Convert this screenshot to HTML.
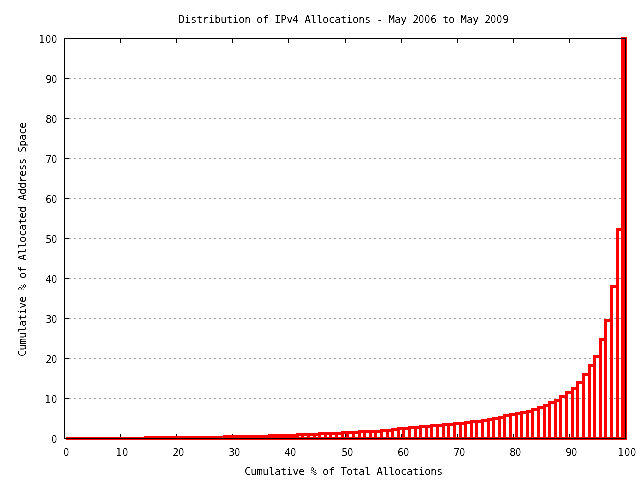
<!DOCTYPE html>
<html><head><meta charset="utf-8"><style>
html,body{margin:0;padding:0;background:#fff;}
body{width:640px;height:480px;position:relative;overflow:hidden;}
.plot{position:absolute;left:0;top:0;z-index:2;}
.txt{position:absolute;left:0;top:0;width:640px;height:480px;background:#fff;filter:contrast(2.5);}
.t{position:absolute;white-space:pre;font-family:"DejaVu Sans Mono", "Liberation Mono", monospace;font-size:10.5px;line-height:10px;letter-spacing:-0.32px;color:#000;transform-origin:0 0;transform:translate(-0.5px,-1px) scaleY(1.0);}
.z{display:inline-block;width:6px;font-family:"Liberation Sans",sans-serif;font-size:10.8px;letter-spacing:0px;transform:scaleX(0.85);transform-origin:20% 0;}
.o{position:relative;left:-1px;}
.yl{position:absolute;left:18px;top:356px;white-space:pre;font-family:"DejaVu Sans Mono", "Liberation Mono", monospace;font-size:10.5px;line-height:10px;letter-spacing:-0.32px;color:#000;transform-origin:0 0;transform:rotate(-90deg) translate(-0.5px,-1px) scaleY(1.0);}
</style></head><body>
<svg class="plot" width="640" height="480" viewBox="0 0 640 480" shape-rendering="crispEdges"><g stroke="#a0a0a0" stroke-width="1" stroke-dasharray="2 3"><line x1="64" y1="398.5" x2="626" y2="398.5"/><line x1="64" y1="358.5" x2="626" y2="358.5"/><line x1="64" y1="318.5" x2="626" y2="318.5"/><line x1="64" y1="278.5" x2="626" y2="278.5"/><line x1="64" y1="238.5" x2="626" y2="238.5"/><line x1="64" y1="198.5" x2="626" y2="198.5"/><line x1="64" y1="158.5" x2="626" y2="158.5"/><line x1="64" y1="118.5" x2="626" y2="118.5"/><line x1="64" y1="78.5" x2="626" y2="78.5"/></g><g fill="#000"><rect x="64" y="434" width="1" height="5"/><rect x="64" y="38" width="1" height="5"/><rect x="120" y="434" width="1" height="5"/><rect x="120" y="38" width="1" height="5"/><rect x="176" y="434" width="1" height="5"/><rect x="176" y="38" width="1" height="5"/><rect x="232" y="434" width="1" height="5"/><rect x="232" y="38" width="1" height="5"/><rect x="288" y="434" width="1" height="5"/><rect x="288" y="38" width="1" height="5"/><rect x="345" y="434" width="1" height="5"/><rect x="345" y="38" width="1" height="5"/><rect x="401" y="434" width="1" height="5"/><rect x="401" y="38" width="1" height="5"/><rect x="457" y="434" width="1" height="5"/><rect x="457" y="38" width="1" height="5"/><rect x="513" y="434" width="1" height="5"/><rect x="513" y="38" width="1" height="5"/><rect x="569" y="434" width="1" height="5"/><rect x="569" y="38" width="1" height="5"/><rect x="625" y="434" width="1" height="5"/><rect x="625" y="38" width="1" height="5"/><rect x="64" y="438" width="5" height="1"/><rect x="621" y="438" width="5" height="1"/><rect x="64" y="398" width="5" height="1"/><rect x="621" y="398" width="5" height="1"/><rect x="64" y="358" width="5" height="1"/><rect x="621" y="358" width="5" height="1"/><rect x="64" y="318" width="5" height="1"/><rect x="621" y="318" width="5" height="1"/><rect x="64" y="278" width="5" height="1"/><rect x="621" y="278" width="5" height="1"/><rect x="64" y="238" width="5" height="1"/><rect x="621" y="238" width="5" height="1"/><rect x="64" y="198" width="5" height="1"/><rect x="621" y="198" width="5" height="1"/><rect x="64" y="158" width="5" height="1"/><rect x="621" y="158" width="5" height="1"/><rect x="64" y="118" width="5" height="1"/><rect x="621" y="118" width="5" height="1"/><rect x="64" y="78" width="5" height="1"/><rect x="621" y="78" width="5" height="1"/><rect x="64" y="38" width="5" height="1"/><rect x="621" y="38" width="5" height="1"/></g><g fill="#f00"><rect x="66" y="437" width="3" height="3"/><rect x="67" y="437" width="6" height="3"/><rect x="71" y="437" width="3" height="3"/><rect x="67" y="437" width="6" height="3"/><rect x="71" y="437" width="3" height="3"/><rect x="72" y="437" width="7" height="3"/><rect x="77" y="437" width="3" height="3"/><rect x="72" y="437" width="7" height="3"/><rect x="77" y="437" width="3" height="3"/><rect x="78" y="437" width="7" height="3"/><rect x="83" y="437" width="3" height="3"/><rect x="78" y="437" width="7" height="3"/><rect x="83" y="437" width="3" height="3"/><rect x="84" y="437" width="6" height="3"/><rect x="88" y="437" width="3" height="3"/><rect x="84" y="437" width="6" height="3"/><rect x="88" y="437" width="3" height="3"/><rect x="89" y="437" width="7" height="3"/><rect x="94" y="437" width="3" height="3"/><rect x="89" y="437" width="7" height="3"/><rect x="94" y="437" width="3" height="3"/><rect x="95" y="437" width="6" height="3"/><rect x="99" y="437" width="3" height="3"/><rect x="95" y="437" width="6" height="3"/><rect x="99" y="437" width="3" height="3"/><rect x="100" y="437" width="7" height="3"/><rect x="105" y="437" width="3" height="3"/><rect x="100" y="437" width="7" height="3"/><rect x="105" y="437" width="3" height="3"/><rect x="106" y="437" width="7" height="3"/><rect x="111" y="437" width="3" height="3"/><rect x="106" y="437" width="7" height="3"/><rect x="111" y="437" width="3" height="3"/><rect x="112" y="437" width="6" height="3"/><rect x="116" y="437" width="3" height="3"/><rect x="112" y="437" width="6" height="3"/><rect x="116" y="437" width="3" height="3"/><rect x="117" y="437" width="7" height="3"/><rect x="122" y="437" width="3" height="3"/><rect x="117" y="437" width="7" height="3"/><rect x="122" y="437" width="3" height="3"/><rect x="123" y="437" width="7" height="3"/><rect x="128" y="437" width="3" height="3"/><rect x="123" y="437" width="7" height="3"/><rect x="128" y="437" width="3" height="3"/><rect x="129" y="437" width="6" height="3"/><rect x="133" y="437" width="3" height="3"/><rect x="129" y="437" width="6" height="3"/><rect x="133" y="437" width="3" height="3"/><rect x="134" y="437" width="7" height="3"/><rect x="139" y="437" width="3" height="3"/><rect x="134" y="437" width="7" height="3"/><rect x="139" y="437" width="3" height="3"/><rect x="140" y="437" width="6" height="3"/><rect x="144" y="437" width="3" height="3"/><rect x="140" y="437" width="6" height="3"/><rect x="144" y="436" width="3" height="4"/><rect x="145" y="436" width="7" height="3"/><rect x="150" y="436" width="3" height="4"/><rect x="145" y="437" width="7" height="3"/><rect x="150" y="436" width="3" height="4"/><rect x="151" y="436" width="7" height="3"/><rect x="156" y="436" width="3" height="4"/><rect x="151" y="437" width="7" height="3"/><rect x="156" y="436" width="3" height="4"/><rect x="157" y="436" width="6" height="3"/><rect x="161" y="436" width="3" height="4"/><rect x="157" y="437" width="6" height="3"/><rect x="161" y="436" width="3" height="4"/><rect x="162" y="436" width="7" height="3"/><rect x="167" y="436" width="3" height="4"/><rect x="162" y="437" width="7" height="3"/><rect x="167" y="436" width="3" height="4"/><rect x="168" y="436" width="6" height="3"/><rect x="172" y="436" width="3" height="4"/><rect x="168" y="437" width="6" height="3"/><rect x="172" y="436" width="3" height="4"/><rect x="173" y="436" width="7" height="3"/><rect x="178" y="436" width="3" height="4"/><rect x="173" y="437" width="7" height="3"/><rect x="178" y="436" width="3" height="4"/><rect x="179" y="436" width="7" height="3"/><rect x="184" y="436" width="3" height="4"/><rect x="179" y="437" width="7" height="3"/><rect x="184" y="436" width="3" height="4"/><rect x="185" y="436" width="6" height="3"/><rect x="189" y="436" width="3" height="4"/><rect x="185" y="437" width="6" height="3"/><rect x="189" y="436" width="3" height="4"/><rect x="190" y="436" width="7" height="3"/><rect x="195" y="436" width="3" height="4"/><rect x="190" y="437" width="7" height="3"/><rect x="195" y="436" width="3" height="4"/><rect x="196" y="436" width="6" height="3"/><rect x="200" y="436" width="3" height="4"/><rect x="196" y="437" width="6" height="3"/><rect x="200" y="436" width="3" height="4"/><rect x="201" y="436" width="7" height="3"/><rect x="206" y="436" width="3" height="4"/><rect x="201" y="437" width="7" height="3"/><rect x="206" y="436" width="3" height="4"/><rect x="207" y="436" width="7" height="3"/><rect x="212" y="436" width="3" height="4"/><rect x="207" y="437" width="7" height="3"/><rect x="212" y="436" width="3" height="4"/><rect x="213" y="436" width="6" height="3"/><rect x="217" y="436" width="3" height="4"/><rect x="213" y="437" width="6" height="3"/><rect x="217" y="436" width="3" height="4"/><rect x="218" y="436" width="7" height="3"/><rect x="223" y="436" width="3" height="4"/><rect x="218" y="437" width="7" height="3"/><rect x="223" y="435" width="3" height="5"/><rect x="224" y="435" width="6" height="3"/><rect x="228" y="435" width="3" height="5"/><rect x="224" y="437" width="6" height="3"/><rect x="228" y="435" width="3" height="5"/><rect x="229" y="435" width="7" height="3"/><rect x="234" y="435" width="3" height="5"/><rect x="229" y="437" width="7" height="3"/><rect x="234" y="435" width="3" height="5"/><rect x="235" y="435" width="7" height="3"/><rect x="240" y="435" width="3" height="5"/><rect x="235" y="437" width="7" height="3"/><rect x="240" y="435" width="3" height="5"/><rect x="241" y="435" width="6" height="3"/><rect x="245" y="435" width="3" height="5"/><rect x="241" y="437" width="6" height="3"/><rect x="245" y="435" width="3" height="5"/><rect x="246" y="435" width="7" height="3"/><rect x="251" y="435" width="3" height="5"/><rect x="246" y="437" width="7" height="3"/><rect x="251" y="435" width="3" height="5"/><rect x="252" y="435" width="7" height="3"/><rect x="257" y="435" width="3" height="5"/><rect x="252" y="437" width="7" height="3"/><rect x="257" y="435" width="3" height="5"/><rect x="258" y="435" width="6" height="3"/><rect x="262" y="435" width="3" height="5"/><rect x="258" y="437" width="6" height="3"/><rect x="262" y="435" width="3" height="5"/><rect x="263" y="435" width="7" height="3"/><rect x="268" y="435" width="3" height="5"/><rect x="263" y="437" width="7" height="3"/><rect x="268" y="434" width="3" height="6"/><rect x="269" y="434" width="6" height="3"/><rect x="273" y="434" width="3" height="6"/><rect x="269" y="437" width="6" height="3"/><rect x="273" y="434" width="3" height="6"/><rect x="274" y="434" width="7" height="3"/><rect x="279" y="434" width="3" height="6"/><rect x="274" y="437" width="7" height="3"/><rect x="279" y="434" width="3" height="6"/><rect x="280" y="434" width="7" height="3"/><rect x="285" y="434" width="3" height="6"/><rect x="280" y="437" width="7" height="3"/><rect x="285" y="434" width="3" height="6"/><rect x="286" y="434" width="6" height="3"/><rect x="290" y="434" width="3" height="6"/><rect x="286" y="437" width="6" height="3"/><rect x="290" y="434" width="3" height="6"/><rect x="291" y="434" width="7" height="3"/><rect x="296" y="434" width="3" height="6"/><rect x="291" y="437" width="7" height="3"/><rect x="296" y="433" width="3" height="7"/><rect x="297" y="433" width="6" height="3"/><rect x="301" y="433" width="3" height="7"/><rect x="297" y="437" width="6" height="3"/><rect x="301" y="433" width="3" height="7"/><rect x="302" y="433" width="7" height="3"/><rect x="307" y="433" width="3" height="7"/><rect x="302" y="437" width="7" height="3"/><rect x="307" y="433" width="3" height="7"/><rect x="308" y="433" width="7" height="3"/><rect x="313" y="433" width="3" height="7"/><rect x="308" y="437" width="7" height="3"/><rect x="313" y="433" width="3" height="7"/><rect x="314" y="433" width="6" height="3"/><rect x="318" y="433" width="3" height="7"/><rect x="314" y="437" width="6" height="3"/><rect x="318" y="432" width="3" height="8"/><rect x="319" y="432" width="7" height="3"/><rect x="324" y="432" width="3" height="8"/><rect x="319" y="437" width="7" height="3"/><rect x="324" y="432" width="3" height="8"/><rect x="325" y="432" width="6" height="3"/><rect x="329" y="432" width="3" height="8"/><rect x="325" y="437" width="6" height="3"/><rect x="329" y="432" width="3" height="8"/><rect x="330" y="432" width="7" height="3"/><rect x="335" y="432" width="3" height="8"/><rect x="330" y="437" width="7" height="3"/><rect x="335" y="432" width="3" height="8"/><rect x="336" y="432" width="7" height="3"/><rect x="341" y="432" width="3" height="8"/><rect x="336" y="437" width="7" height="3"/><rect x="341" y="431" width="3" height="9"/><rect x="342" y="431" width="6" height="3"/><rect x="346" y="431" width="3" height="9"/><rect x="342" y="437" width="6" height="3"/><rect x="346" y="431" width="3" height="9"/><rect x="347" y="431" width="7" height="3"/><rect x="352" y="431" width="3" height="9"/><rect x="347" y="437" width="7" height="3"/><rect x="352" y="431" width="3" height="9"/><rect x="353" y="431" width="7" height="3"/><rect x="358" y="431" width="3" height="9"/><rect x="353" y="437" width="7" height="3"/><rect x="358" y="430" width="3" height="10"/><rect x="359" y="430" width="6" height="3"/><rect x="363" y="430" width="3" height="10"/><rect x="359" y="437" width="6" height="3"/><rect x="363" y="430" width="3" height="10"/><rect x="364" y="430" width="7" height="3"/><rect x="369" y="430" width="3" height="10"/><rect x="364" y="437" width="7" height="3"/><rect x="369" y="430" width="3" height="10"/><rect x="370" y="430" width="6" height="3"/><rect x="374" y="430" width="3" height="10"/><rect x="370" y="437" width="6" height="3"/><rect x="374" y="430" width="3" height="10"/><rect x="375" y="430" width="7" height="3"/><rect x="380" y="430" width="3" height="10"/><rect x="375" y="437" width="7" height="3"/><rect x="380" y="429" width="3" height="11"/><rect x="381" y="429" width="7" height="3"/><rect x="386" y="429" width="3" height="11"/><rect x="381" y="437" width="7" height="3"/><rect x="386" y="429" width="3" height="11"/><rect x="387" y="429" width="6" height="3"/><rect x="391" y="429" width="3" height="11"/><rect x="387" y="437" width="6" height="3"/><rect x="391" y="428" width="3" height="12"/><rect x="392" y="428" width="7" height="3"/><rect x="397" y="428" width="3" height="12"/><rect x="392" y="437" width="7" height="3"/><rect x="397" y="427" width="3" height="13"/><rect x="398" y="427" width="6" height="3"/><rect x="402" y="427" width="3" height="13"/><rect x="398" y="437" width="6" height="3"/><rect x="402" y="427" width="3" height="13"/><rect x="403" y="427" width="7" height="3"/><rect x="408" y="427" width="3" height="13"/><rect x="403" y="437" width="7" height="3"/><rect x="408" y="426" width="3" height="14"/><rect x="409" y="426" width="7" height="3"/><rect x="414" y="426" width="3" height="14"/><rect x="409" y="437" width="7" height="3"/><rect x="414" y="426" width="3" height="14"/><rect x="415" y="426" width="6" height="3"/><rect x="419" y="426" width="3" height="14"/><rect x="415" y="437" width="6" height="3"/><rect x="419" y="425" width="3" height="15"/><rect x="420" y="425" width="7" height="3"/><rect x="425" y="425" width="3" height="15"/><rect x="420" y="437" width="7" height="3"/><rect x="425" y="425" width="3" height="15"/><rect x="426" y="425" width="6" height="3"/><rect x="430" y="425" width="3" height="15"/><rect x="426" y="437" width="6" height="3"/><rect x="430" y="424" width="3" height="16"/><rect x="431" y="424" width="7" height="3"/><rect x="436" y="424" width="3" height="16"/><rect x="431" y="437" width="7" height="3"/><rect x="436" y="424" width="3" height="16"/><rect x="437" y="424" width="7" height="3"/><rect x="442" y="424" width="3" height="16"/><rect x="437" y="437" width="7" height="3"/><rect x="442" y="423" width="3" height="17"/><rect x="443" y="423" width="6" height="3"/><rect x="447" y="423" width="3" height="17"/><rect x="443" y="437" width="6" height="3"/><rect x="447" y="423" width="3" height="17"/><rect x="448" y="423" width="7" height="3"/><rect x="453" y="423" width="3" height="17"/><rect x="448" y="437" width="7" height="3"/><rect x="453" y="422" width="3" height="18"/><rect x="454" y="422" width="7" height="3"/><rect x="459" y="422" width="3" height="18"/><rect x="454" y="437" width="7" height="3"/><rect x="459" y="422" width="3" height="18"/><rect x="460" y="422" width="6" height="3"/><rect x="464" y="422" width="3" height="18"/><rect x="460" y="437" width="6" height="3"/><rect x="464" y="421" width="3" height="19"/><rect x="465" y="421" width="7" height="3"/><rect x="470" y="421" width="3" height="19"/><rect x="465" y="437" width="7" height="3"/><rect x="470" y="420" width="3" height="20"/><rect x="471" y="420" width="6" height="3"/><rect x="475" y="420" width="3" height="20"/><rect x="471" y="437" width="6" height="3"/><rect x="475" y="420" width="3" height="20"/><rect x="476" y="420" width="7" height="3"/><rect x="481" y="420" width="3" height="20"/><rect x="476" y="437" width="7" height="3"/><rect x="481" y="419" width="3" height="21"/><rect x="482" y="419" width="7" height="3"/><rect x="487" y="419" width="3" height="21"/><rect x="482" y="437" width="7" height="3"/><rect x="487" y="418" width="3" height="22"/><rect x="488" y="418" width="6" height="3"/><rect x="492" y="418" width="3" height="22"/><rect x="488" y="437" width="6" height="3"/><rect x="492" y="417" width="3" height="23"/><rect x="493" y="417" width="7" height="3"/><rect x="498" y="417" width="3" height="23"/><rect x="493" y="437" width="7" height="3"/><rect x="498" y="416" width="3" height="24"/><rect x="499" y="416" width="6" height="3"/><rect x="503" y="416" width="3" height="24"/><rect x="499" y="437" width="6" height="3"/><rect x="503" y="414" width="3" height="26"/><rect x="504" y="414" width="7" height="3"/><rect x="509" y="414" width="3" height="26"/><rect x="504" y="437" width="7" height="3"/><rect x="509" y="413" width="3" height="27"/><rect x="510" y="413" width="7" height="3"/><rect x="515" y="413" width="3" height="27"/><rect x="510" y="437" width="7" height="3"/><rect x="515" y="412" width="3" height="28"/><rect x="516" y="412" width="6" height="3"/><rect x="520" y="412" width="3" height="28"/><rect x="516" y="437" width="6" height="3"/><rect x="520" y="411" width="3" height="29"/><rect x="521" y="411" width="7" height="3"/><rect x="526" y="411" width="3" height="29"/><rect x="521" y="437" width="7" height="3"/><rect x="526" y="410" width="3" height="30"/><rect x="527" y="410" width="6" height="3"/><rect x="531" y="410" width="3" height="30"/><rect x="527" y="437" width="6" height="3"/><rect x="531" y="408" width="3" height="32"/><rect x="532" y="408" width="7" height="3"/><rect x="537" y="408" width="3" height="32"/><rect x="532" y="437" width="7" height="3"/><rect x="537" y="406" width="3" height="34"/><rect x="538" y="406" width="7" height="3"/><rect x="543" y="406" width="3" height="34"/><rect x="538" y="437" width="7" height="3"/><rect x="543" y="404" width="3" height="36"/><rect x="544" y="404" width="6" height="3"/><rect x="548" y="404" width="3" height="36"/><rect x="544" y="437" width="6" height="3"/><rect x="548" y="401" width="3" height="39"/><rect x="549" y="401" width="7" height="3"/><rect x="554" y="401" width="3" height="39"/><rect x="549" y="437" width="7" height="3"/><rect x="554" y="399" width="3" height="41"/><rect x="555" y="399" width="6" height="3"/><rect x="559" y="399" width="3" height="41"/><rect x="555" y="437" width="6" height="3"/><rect x="559" y="395" width="3" height="45"/><rect x="560" y="395" width="7" height="3"/><rect x="565" y="395" width="3" height="45"/><rect x="560" y="437" width="7" height="3"/><rect x="565" y="391" width="3" height="49"/><rect x="566" y="391" width="7" height="3"/><rect x="571" y="391" width="3" height="49"/><rect x="566" y="437" width="7" height="3"/><rect x="571" y="387" width="3" height="53"/><rect x="572" y="387" width="6" height="3"/><rect x="576" y="387" width="3" height="53"/><rect x="572" y="437" width="6" height="3"/><rect x="576" y="381" width="3" height="59"/><rect x="577" y="381" width="7" height="3"/><rect x="582" y="381" width="3" height="59"/><rect x="577" y="437" width="7" height="3"/><rect x="582" y="373" width="3" height="67"/><rect x="583" y="373" width="7" height="3"/><rect x="588" y="373" width="3" height="67"/><rect x="583" y="437" width="7" height="3"/><rect x="588" y="364" width="3" height="76"/><rect x="589" y="364" width="6" height="3"/><rect x="593" y="364" width="3" height="76"/><rect x="589" y="437" width="6" height="3"/><rect x="593" y="355" width="3" height="85"/><rect x="594" y="355" width="7" height="3"/><rect x="599" y="355" width="3" height="85"/><rect x="594" y="437" width="7" height="3"/><rect x="599" y="338" width="3" height="102"/><rect x="600" y="338" width="6" height="3"/><rect x="604" y="338" width="3" height="102"/><rect x="600" y="437" width="6" height="3"/><rect x="604" y="319" width="3" height="121"/><rect x="605" y="319" width="7" height="3"/><rect x="610" y="319" width="3" height="121"/><rect x="605" y="437" width="7" height="3"/><rect x="610" y="285" width="3" height="155"/><rect x="611" y="285" width="7" height="3"/><rect x="616" y="285" width="3" height="155"/><rect x="611" y="437" width="7" height="3"/><rect x="616" y="228" width="3" height="212"/><rect x="617" y="228" width="6" height="3"/><rect x="621" y="228" width="3" height="212"/><rect x="617" y="437" width="6" height="3"/><rect x="621" y="37" width="3" height="403"/><rect x="622" y="37" width="4" height="3"/><rect x="624" y="37" width="3" height="403"/><rect x="622" y="437" width="4" height="3"/></g><g fill="#000"><rect x="64" y="38" width="562" height="1"/><rect x="64" y="438" width="562" height="1"/><rect x="64" y="38" width="1" height="401"/><rect x="625" y="38" width="1" height="401"/></g></svg>
<div class="txt">
<div class="t" style="left:179px;top:15px">Distribution of IPv4 Allocations - May 2<span class="z">0</span><span class="z">0</span>6 to May 2<span class="z">0</span><span class="z">0</span>9</div>
<div class="t" style="left:52px;top:435px"><span class="z">0</span></div>
<div class="t" style="left:46px;top:395px"><span class="o">1</span><span class="z">0</span></div>
<div class="t" style="left:46px;top:355px">2<span class="z">0</span></div>
<div class="t" style="left:46px;top:315px">3<span class="z">0</span></div>
<div class="t" style="left:46px;top:275px">4<span class="z">0</span></div>
<div class="t" style="left:46px;top:235px">5<span class="z">0</span></div>
<div class="t" style="left:46px;top:195px">6<span class="z">0</span></div>
<div class="t" style="left:46px;top:155px">7<span class="z">0</span></div>
<div class="t" style="left:46px;top:115px">8<span class="z">0</span></div>
<div class="t" style="left:46px;top:75px">9<span class="z">0</span></div>
<div class="t" style="left:40px;top:35px"><span class="o">1</span><span class="z">0</span><span class="z">0</span></div>
<div class="t" style="left:64px;top:448px"><span class="z">0</span></div>
<div class="t" style="left:117px;top:448px"><span class="o">1</span><span class="z">0</span></div>
<div class="t" style="left:173px;top:448px">2<span class="z">0</span></div>
<div class="t" style="left:229px;top:448px">3<span class="z">0</span></div>
<div class="t" style="left:285px;top:448px">4<span class="z">0</span></div>
<div class="t" style="left:342px;top:448px">5<span class="z">0</span></div>
<div class="t" style="left:398px;top:448px">6<span class="z">0</span></div>
<div class="t" style="left:454px;top:448px">7<span class="z">0</span></div>
<div class="t" style="left:510px;top:448px">8<span class="z">0</span></div>
<div class="t" style="left:566px;top:448px">9<span class="z">0</span></div>
<div class="t" style="left:619px;top:448px"><span class="o">1</span><span class="z">0</span><span class="z">0</span></div>
<div class="t" style="left:245px;top:467px">Cumulative % of Total Allocations</div>
<div class="yl">Cumulative % of Allocated Address Space</div>
</div>
</body></html>
